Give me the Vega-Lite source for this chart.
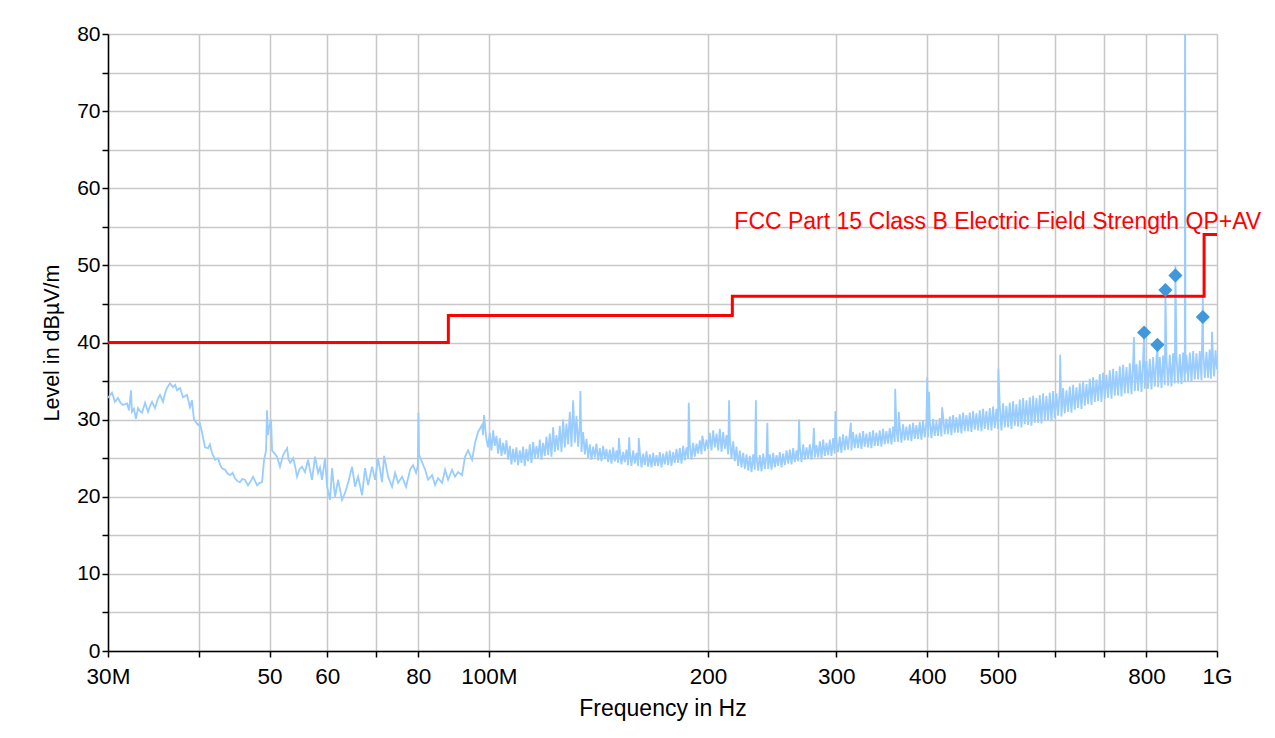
{
"$schema": "https://vega.github.io/schema/vega-lite/v6.json",
"width": 1109, "height": 617,
"autosize": "none",
"padding": {"left": 108, "top": 34, "right": 58, "bottom": 87},
"background": "white",
"config": {"view": {"stroke": null}, "font": "Liberation Sans"},
"datasets": {
"trace": [
{"f":30,"v":32.8},{"f":30.1,"v":33},{"f":30.38,"v":33.5},{"f":30.67,"v":32.3},{"f":30.96,"v":32.8},{"f":31.2,"v":32.2},{"f":31.45,"v":31.9},{"f":31.86,"v":32.1},{"f":32.06,"v":31.2},{"f":32.26,"v":33.8},{"f":32.36,"v":31},{"f":32.56,"v":31.4},{"f":32.77,"v":30.1},{"f":32.99,"v":31.5},{"f":33.2,"v":31.1},{"f":33.41,"v":30.9},{"f":33.73,"v":32.2},{"f":34.05,"v":31},{"f":34.27,"v":31.8},{"f":34.48,"v":32.3},{"f":34.81,"v":31.5},{"f":35.1,"v":32.6},{"f":35.36,"v":33.2},{"f":35.7,"v":32.3},{"f":35.95,"v":33.5},{"f":36.15,"v":34.1},{"f":36.5,"v":34.7},{"f":36.85,"v":34.2},{"f":37.1,"v":34.5},{"f":37.32,"v":33.8},{"f":37.67,"v":34.1},{"f":38.03,"v":32.9},{"f":38.51,"v":33.2},{"f":38.88,"v":31.6},{"f":39.12,"v":32.5},{"f":39.37,"v":30},{"f":39.88,"v":29.3},{"f":40.12,"v":29.5},{"f":40.37,"v":28.4},{"f":40.77,"v":26.4},{"f":41.16,"v":26.3},{"f":41.4,"v":26.8},{"f":41.68,"v":25.7},{"f":42.08,"v":24.8},{"f":42.48,"v":25},{"f":42.75,"v":24.2},{"f":43.02,"v":23.7},{"f":43.44,"v":23.5},{"f":43.8,"v":23},{"f":44.13,"v":22.8},{"f":44.48,"v":23.1},{"f":44.82,"v":22.4},{"f":45.2,"v":22},{"f":45.54,"v":21.9},{"f":45.9,"v":22.3},{"f":46.26,"v":22.2},{"f":46.71,"v":21.5},{"f":47.1,"v":22},{"f":47.45,"v":22.6},{"f":48.06,"v":21.5},{"f":48.45,"v":21.8},{"f":48.83,"v":21.9},{"f":49.14,"v":24.8},{"f":49.45,"v":26},{"f":49.6,"v":31.2},{"f":49.75,"v":28},{"f":49.92,"v":29},{"f":50.24,"v":30},{"f":50.4,"v":26},{"f":50.8,"v":25.6},{"f":51.2,"v":25.2},{"f":51.68,"v":23.9},{"f":52.19,"v":25.4},{"f":52.86,"v":26.3},{"f":53.1,"v":24.8},{"f":53.37,"v":24.4},{"f":53.88,"v":25},{"f":54.2,"v":24},{"f":54.54,"v":22.6},{"f":55,"v":23.6},{"f":55.41,"v":23.9},{"f":55.93,"v":23.2},{"f":56.47,"v":24.8},{"f":56.8,"v":23.5},{"f":57.19,"v":22.2},{"f":57.74,"v":25.2},{"f":58.29,"v":23.1},{"f":58.65,"v":23.8},{"f":59.02,"v":22.2},{"f":59.59,"v":25},{"f":59.97,"v":21.3},{"f":60.54,"v":19.6},{"f":60.92,"v":23.7},{"f":61.5,"v":20},{"f":62.09,"v":22.2},{"f":62.88,"v":19.6},{"f":63.48,"v":20.5},{"f":64.09,"v":21.8},{"f":64.9,"v":23.9},{"f":65.52,"v":21.3},{"f":66.15,"v":22.6},{"f":66.99,"v":20.2},{"f":67.62,"v":23.7},{"f":68.27,"v":21.5},{"f":69.14,"v":23.9},{"f":69.8,"v":22.2},{"f":70.46,"v":25},{"f":71.36,"v":21.9},{"f":71.82,"v":25.3},{"f":72.73,"v":22.6},{"f":73.65,"v":21.3},{"f":74.36,"v":23.1},{"f":75.07,"v":21.8},{"f":76.02,"v":22.6},{"f":76.99,"v":21.3},{"f":77.97,"v":23.5},{"f":78.71,"v":24.1},{"f":79.46,"v":23.1},{"f":79.9,"v":24},{"f":80.05,"v":30.9},{"f":80.22,"v":25.5},{"f":80.73,"v":24.8},{"f":81.77,"v":23.5},{"f":82.54,"v":22.2},{"f":83.59,"v":22.8},{"f":84.39,"v":21.5},{"f":85.19,"v":22.4},{"f":86.27,"v":21.8},{"f":87.09,"v":23.5},{"f":87.93,"v":22.2},{"f":89.04,"v":23.5},{"f":89.89,"v":22.6},{"f":90.75,"v":23.2},{"f":91.9,"v":22.8},{"f":92.78,"v":25.2},{"f":93.67,"v":26},{"f":94.85,"v":24.8},{"f":95.76,"v":27},{"f":96.68,"v":28.4},{"f":97.91,"v":29.3},{"f":98.2,"v":28},{"f":98.53,"v":30.6},{"f":99.16,"v":27.7},
{"f":99.78,"v":26.4},{"f":100.32,"v":28.3},{"f":100.85,"v":26},{"f":101.39,"v":28.6},{"f":101.92,"v":26.6},{"f":102.46,"v":27.9},
{"f":102.99,"v":25.6},{"f":103.54,"v":27.6},{"f":104.09,"v":25.3},{"f":104.65,"v":27},{"f":105.2,"v":25.5},{"f":105.75,"v":27.3},
{"f":106.3,"v":24.8},{"f":106.87,"v":26.6},{"f":107.44,"v":24.2},{"f":108,"v":26.2},{"f":108.57,"v":24.5},{"f":109.14,"v":26.4},
{"f":109.71,"v":24.1},{"f":110.3,"v":26},{"f":110.89,"v":24.4},{"f":111.47,"v":26.5},{"f":112.06,"v":24},{"f":112.65,"v":26.2},
{"f":113.24,"v":24.6},{"f":113.85,"v":26.8},{"f":114.45,"v":24.4},{"f":115.06,"v":27.1},{"f":115.67,"v":25},{"f":116.27,"v":26.6},
{"f":116.88,"v":25},{"f":117.51,"v":27.4},{"f":118.13,"v":24.8},{"f":118.76,"v":27},{"f":119.38,"v":25.3},{"f":120.01,"v":27.8},
{"f":120.63,"v":25.4},{"f":121.28,"v":28.2},{"f":121.92,"v":25.2},{"f":122.57,"v":29},{"f":123.22,"v":25.8},{"f":123.86,"v":28},
{"f":124.51,"v":26},{"f":125.18,"v":29.2},{"f":125.84,"v":25.8},{"f":126.51,"v":30},{"f":127.18,"v":26.4},{"f":127.84,"v":29.5},
{"f":128.51,"v":26.8},{"f":129.2,"v":31},{"f":129.89,"v":26.5},{"f":130.57,"v":32.5},{"f":131.26,"v":27},{"f":131.95,"v":30.5},
{"f":132.64,"v":26.5},{"f":133.35,"v":29.5},{"f":133.6,"v":33.7},{"f":134.06,"v":25.8},{"f":134.77,"v":28.4},{"f":135.48,"v":25.5},{"f":136.19,"v":27.5},
{"f":136.9,"v":25},{"f":137.63,"v":26.8},{"f":138.37,"v":24.8},{"f":139.1,"v":26.5},{"f":139.83,"v":25.1},{"f":140.57,"v":26.9},
{"f":141.3,"v":24.7},{"f":142.06,"v":26.3},{"f":142.81,"v":24.6},{"f":143.57,"v":26.6},{"f":144.33,"v":24.9},{"f":145.08,"v":26.2},
{"f":145.84,"v":24.5},{"f":146.62,"v":26.1},{"f":147.4,"v":24.3},{"f":148.18,"v":26.4},{"f":148.96,"v":24.6},{"f":149.74,"v":26},
{"f":150.52,"v":24.4},{"f":150.9,"v":27.6},{"f":151.33,"v":26},{"f":152.13,"v":24.2},{"f":152.94,"v":25.8},{"f":153.75,"v":24.5},{"f":154.55,"v":26.1},
{"f":155.36,"v":24.1},{"f":155.9,"v":27.7},{"f":156.19,"v":25.9},{"f":157.02,"v":24},{"f":157.86,"v":26},{"f":158.69,"v":24.3},{"f":159.52,"v":25.7},
{"f":160.35,"v":24},{"f":160.7,"v":27.6},{"f":161.21,"v":25.8},{"f":162.07,"v":23.8},{"f":162.92,"v":25.6},{"f":163.78,"v":24.1},{"f":164.64,"v":25.9},
{"f":165.5,"v":23.9},{"f":166.39,"v":25.5},{"f":167.27,"v":23.8},{"f":168.16,"v":25.7},{"f":169.05,"v":24},{"f":169.93,"v":25.4},
{"f":170.82,"v":24},{"f":171.74,"v":25.8},{"f":172.65,"v":23.8},{"f":173.57,"v":25.6},{"f":174.48,"v":24.2},{"f":175.4,"v":25.9},
{"f":176.31,"v":24.1},{"f":177.26,"v":26},{"f":178.2,"v":24},{"f":179.15,"v":25.8},{"f":180.09,"v":24.4},{"f":181.04,"v":26.2},
{"f":181.98,"v":24.4},{"f":182.95,"v":26.3},{"f":183.93,"v":24.3},{"f":184.9,"v":26.6},{"f":185.87,"v":24.7},{"f":186.85,"v":26.4},
{"f":187.82,"v":25},{"f":188.2,"v":32.2},{"f":188.83,"v":26.8},{"f":189.83,"v":24.8},{"f":190.84,"v":27},{"f":191.85,"v":25.2},{"f":192.85,"v":26.9},
{"f":193.86,"v":25.6},{"f":194.9,"v":27.3},{"f":195.94,"v":25.5},{"f":196.4,"v":27.9},{"f":196.97,"v":27.4},{"f":198.01,"v":25.9},{"f":199.05,"v":27.4},
{"f":200.09,"v":26.2},{"f":201.16,"v":28.3},{"f":202.23,"v":26},{"f":203.31,"v":28.6},{"f":204.38,"v":26.4},{"f":205.45,"v":28.2},
{"f":206.52,"v":26},{"f":207.63,"v":28.8},{"f":208.73,"v":25.8},{"f":209.84,"v":28.4},{"f":210.94,"v":26.2},{"f":212.05,"v":28},
{"f":213.15,"v":25.5},{"f":213.8,"v":32.5},{"f":214.29,"v":27.5},{"f":215.43,"v":25},{"f":216.58,"v":27.2},{"f":217.72,"v":24.6},{"f":218.86,"v":26.5},
{"f":220,"v":24},{"f":221.18,"v":26},{"f":222.36,"v":23.8},{"f":223.54,"v":25.7},{"f":224.71,"v":23.6},{"f":225.89,"v":25.5},
{"f":227.07,"v":23.4},{"f":228.29,"v":25.3},{"f":229.5,"v":23.2},{"f":230.72,"v":25.5},{"f":231.93,"v":23.5},{"f":232.7,"v":32.5},{"f":233.15,"v":25.2},
{"f":234.36,"v":23.4},{"f":235.62,"v":25.4},{"f":236.87,"v":23.3},{"f":238.13,"v":25.6},{"f":239.39,"v":23.6},{"f":240.64,"v":25.3},
{"f":241.3,"v":29.6},{"f":241.9,"v":23.6},{"f":243.2,"v":25.5},{"f":244.49,"v":23.5},{"f":245.79,"v":25.7},{"f":247.08,"v":23.8},{"f":248.38,"v":25.4},
{"f":249.67,"v":24},{"f":251.01,"v":25.8},{"f":252.34,"v":23.8},{"f":253.68,"v":25.6},{"f":255.02,"v":24.1},{"f":256.35,"v":26},
{"f":257.69,"v":24.3},{"f":259.07,"v":26.1},{"f":260.45,"v":24.2},{"f":261.83,"v":26.3},{"f":263.21,"v":24.5},{"f":264.59,"v":26},
{"f":265.97,"v":24.6},{"f":266.8,"v":30},{"f":267.4,"v":26.5},{"f":268.82,"v":24.5},{"f":270.25,"v":26.8},{"f":271.67,"v":24.8},{"f":273.1,"v":26.4},
{"f":274.52,"v":24.9},{"f":275.99,"v":26.8},{"f":277.46,"v":24.8},{"f":278.93,"v":27},{"f":279.5,"v":28.9},{"f":280.4,"v":25.1},{"f":281.87,"v":26.7},
{"f":283.34,"v":25.1},{"f":284.86,"v":27.2},{"f":286.37,"v":25},{"f":287.89,"v":27.4},{"f":289.41,"v":25.3},{"f":290.92,"v":27},
{"f":292.44,"v":25.4},{"f":293.99,"v":27.4},{"f":295.53,"v":25.3},{"f":297.08,"v":27.6},{"f":298.62,"v":25.6},{"f":299.2,"v":31.1},{"f":300.17,"v":27.3},
{"f":301.71,"v":25.8},{"f":303.33,"v":27.8},{"f":304.94,"v":25.7},{"f":306.56,"v":28.1},{"f":308.18,"v":26},{"f":309.79,"v":27.9},
{"f":311.41,"v":26.1},{"f":313.08,"v":28.2},{"f":314.2,"v":29.6},{"f":314.74,"v":26},{"f":316.41,"v":28.4},{"f":318.08,"v":26.3},{"f":319.74,"v":28.1},
{"f":321.41,"v":26.3},{"f":323.13,"v":28.3},{"f":324.85,"v":26.2},{"f":326.58,"v":28.5},{"f":328.3,"v":26.5},{"f":330.02,"v":28.2},
{"f":331.74,"v":26.4},{"f":333.52,"v":28.4},{"f":335.29,"v":26.3},{"f":337.07,"v":28.6},{"f":338.85,"v":26.6},{"f":340.62,"v":28.3},
{"f":342.4,"v":26.6},{"f":344.23,"v":28.6},{"f":346.07,"v":26.5},{"f":347.9,"v":28.8},{"f":349.73,"v":26.8},{"f":351.57,"v":28.5},
{"f":353.4,"v":26.9},{"f":355.29,"v":28.9},{"f":357.19,"v":26.8},{"f":359.08,"v":29.1},{"f":360.97,"v":27.1},{"f":361.5,"v":34},{"f":362.87,"v":28.8},
{"f":364.76,"v":27.1},{"f":365.6,"v":31},{"f":366.71,"v":29.2},{"f":368.67,"v":27},{"f":370.62,"v":29.4},{"f":372.57,"v":27.3},{"f":374.53,"v":29.1},
{"f":376.48,"v":27.3},{"f":378.5,"v":29.4},{"f":380.51,"v":27.2},{"f":382.53,"v":29.6},{"f":384.55,"v":27.5},{"f":386.56,"v":29.3},
{"f":388.58,"v":27.5},{"f":390.66,"v":29.7},{"f":392.74,"v":27.4},{"f":394.82,"v":29.9},{"f":396.9,"v":27.7},{"f":398.98,"v":29.6},
{"f":400,"v":35.5},{"f":401.06,"v":27.7},{"f":402.4,"v":33.6},{"f":403.21,"v":29.9},{"f":405.36,"v":27.6},{"f":407.5,"v":30.1},{"f":409.65,"v":27.9},{"f":411.8,"v":29.8},
{"f":413.95,"v":27.9},{"f":416.17,"v":30.2},{"f":418.38,"v":27.8},{"f":419.3,"v":31.6},{"f":420.6,"v":30.4},{"f":422.82,"v":28.1},{"f":425.03,"v":30.1},
{"f":427.25,"v":28.1},{"f":429.54,"v":30.4},{"f":431.83,"v":28},{"f":434.11,"v":30.6},{"f":436.4,"v":28.3},{"f":438.69,"v":30.3},
{"f":440.98,"v":28.3},{"f":443.34,"v":30.7},{"f":445.7,"v":28.2},{"f":448.07,"v":30.9},{"f":450.43,"v":28.5},{"f":452.79,"v":30.6},
{"f":455.15,"v":28.5},{"f":457.59,"v":30.9},{"f":460.02,"v":28.4},{"f":462.46,"v":31.1},{"f":464.9,"v":28.7},{"f":467.33,"v":30.8},
{"f":469.77,"v":28.6},{"f":472.29,"v":31.2},{"f":474.8,"v":28.5},{"f":477.32,"v":31.4},{"f":479.83,"v":28.8},{"f":482.35,"v":31.1},
{"f":484.86,"v":28.7},{"f":487.46,"v":31.5},{"f":490.05,"v":28.6},{"f":492.65,"v":31.7},{"f":495.25,"v":28.9},{"f":497.84,"v":31.4},
{"f":500.44,"v":28.8},{"f":500.9,"v":36.6},{"f":503.12,"v":31.9},{"f":505.8,"v":28.6},{"f":508.48,"v":32.1},{"f":511.16,"v":29},{"f":513.84,"v":31.8},
{"f":516.52,"v":29},{"f":519.29,"v":32.2},{"f":522.05,"v":28.8},{"f":524.82,"v":32.4},{"f":527.59,"v":29.2},{"f":530.35,"v":32},
{"f":533.12,"v":29.1},{"f":535.98,"v":32.6},{"f":538.83,"v":29},{"f":541.69,"v":32.8},{"f":544.54,"v":29.4},{"f":547.4,"v":32.5},
{"f":550.25,"v":29.3},{"f":553.2,"v":32.9},{"f":556.14,"v":29.2},{"f":559.09,"v":33.1},{"f":562.04,"v":29.6},{"f":564.98,"v":32.8},
{"f":567.93,"v":29.6},{"f":570.97,"v":33.2},{"f":574.01,"v":29.5},{"f":577.06,"v":33.4},{"f":580.1,"v":29.9},{"f":583.14,"v":33.1},
{"f":586.18,"v":29.9},{"f":589.32,"v":33.5},{"f":592.46,"v":29.8},{"f":595.6,"v":33.7},{"f":598.73,"v":30.2},{"f":601.87,"v":33.4},
{"f":605.01,"v":30.5},{"f":608.25,"v":33.9},{"f":609,"v":38.4},{"f":611.49,"v":30.4},{"f":614.73,"v":34.1},{"f":617.97,"v":30.8},{"f":621.21,"v":33.8},
{"f":624.45,"v":31},{"f":627.8,"v":34.3},{"f":631.14,"v":30.9},{"f":634.49,"v":34.5},{"f":637.83,"v":31.3},{"f":641.18,"v":34.2},
{"f":644.52,"v":31.5},{"f":647.97,"v":34.7},{"f":651.42,"v":31.4},{"f":654.88,"v":34.9},{"f":658.33,"v":31.8},{"f":661.78,"v":34.6},
{"f":665.23,"v":32},{"f":668.79,"v":35.3},{"f":672.35,"v":31.9},{"f":675.92,"v":35.5},{"f":679.48,"v":32.3},{"f":683.04,"v":35.2},
{"f":686.6,"v":32.4},{"f":690.28,"v":35.9},{"f":693.95,"v":32.3},{"f":697.63,"v":36.1},{"f":701.31,"v":32.7},{"f":704.98,"v":35.8},
{"f":708.66,"v":32.8},{"f":712.46,"v":36.4},{"f":716.25,"v":32.7},{"f":720.05,"v":36.6},{"f":723.84,"v":33.1},{"f":727.64,"v":36.3},
{"f":731.43,"v":33.1},{"f":735.35,"v":36.9},{"f":739.26,"v":33},{"f":743.18,"v":37.1},{"f":747.1,"v":33.4},{"f":751.01,"v":36.8},
{"f":754.93,"v":33.4},{"f":758.97,"v":37.3},{"f":763.02,"v":33.3},{"f":767.06,"v":37.5},{"f":769,"v":40.7},{"f":771.1,"v":33.7},{"f":775.15,"v":37.2},
{"f":779.19,"v":33.7},{"f":783.36,"v":37.7},{"f":787.54,"v":33.6},{"f":791.71,"v":37.9},{"f":794.1,"v":41},{"f":795.88,"v":34},{"f":800.06,"v":37.6},
{"f":804.23,"v":34},{"f":808.54,"v":37.9},{"f":812.84,"v":33.9},{"f":817.15,"v":38.1},{"f":821.46,"v":34.3},{"f":825.76,"v":37.8},{"f":828.3,"v":39.6},
{"f":830.07,"v":34.2},{"f":834.52,"v":38.1},{"f":838.96,"v":34.1},{"f":843.41,"v":38.3},{"f":847.85,"v":34.5},{"f":849.5,"v":46.5},{"f":852.3,"v":38},
{"f":856.74,"v":34.4},{"f":861.33,"v":38.4},{"f":865.92,"v":34.3},{"f":870.5,"v":38.6},{"f":875.09,"v":34.7},{"f":876.8,"v":50},{"f":879.68,"v":38.3},
{"f":884.27,"v":34.7},{"f":889,"v":38.5},{"f":893.74,"v":34.6},{"f":898.47,"v":38.7},{"f":903.21,"v":34.9},{"f":904,"v":100},{"f":905,"v":36},{"f":907.94,"v":38.4},
{"f":912.68,"v":35},{"f":917.57,"v":38.7},{"f":922.45,"v":34.9},{"f":927.34,"v":38.9},{"f":932.23,"v":35.2},{"f":937.11,"v":38.6},
{"f":942,"v":35.2},{"f":947.05,"v":38.9},{"f":952.09,"v":35.1},{"f":956.2,"v":46},{"f":957.14,"v":39.1},{"f":962.18,"v":35.4},{"f":967.23,"v":38.8},
{"f":972.27,"v":35.4},{"f":976.89,"v":39.1},{"f":981.51,"v":35.3},{"f":984.4,"v":41.4},{"f":986.13,"v":39.3},{"f":990.76,"v":35.6},{"f":995.38,"v":39},{"f":1000,"v":36.5}
],
"limit": [{"f":30,"v":40},{"f":88,"v":43.5},{"f":216,"v":46},{"f":960,"v":54},{"f":1000,"v":54}],
"marks": [{"f":794.1,"v":41.3},{"f":828.3,"v":39.7},{"f":849.5,"v":46.8},{"f":876.8,"v":48.7},{"f":956.2,"v":43.3}],
"label": [{"f":216,"v":54.7,"t":"FCC Part 15 Class B Electric Field Strength QP+AV"}]
},
"encoding": {
"x": {"field": "f", "type": "quantitative",
 "scale": {"type": "log", "domain": [30, 1000], "nice": false},
 "axis": {"title": "Frequency in Hz", "values": [30,40,50,60,70,80,100,200,300,400,500,600,700,800,1000],
  "labelExpr": "datum.value == 30 ? '30M' : datum.value == 100 ? '100M' : datum.value == 1000 ? '1G' : (datum.value == 40 || datum.value == 70 || datum.value == 600 || datum.value == 700) ? '' : '' + datum.value",
  "labelOverlap": false, "labelFlush": false, "labelFontSize": 22.5, "labelColor": "#000000", "labelPadding": 8,
  "titleFontSize": 23, "titleFontWeight": "normal", "titleColor": "#000000", "titlePadding": 10,
  "grid": true, "gridColor": "#c8c8c8", "gridWidth": 1.5,
  "domainColor": "#000000", "domainWidth": 1.5, "tickColor": "#000000", "tickWidth": 1.5, "tickSize": 6}},
"y": {"field": "v", "type": "quantitative",
 "scale": {"domain": [0, 80], "nice": false},
 "axis": {"title": "Level in dBµV/m", "values": [0,5,10,15,20,25,30,35,40,45,50,55,60,65,70,75,80],
  "labelExpr": "datum.value % 10 == 0 ? datum.label : ''",
  "labelOverlap": false, "labelFlush": false, "labelFontSize": 21, "labelColor": "#000000", "labelPadding": 2,
  "titleFontSize": 21.5, "titleFontWeight": "normal", "titleColor": "#000000", "titlePadding": 13,
  "grid": true, "gridColor": "#c8c8c8", "gridWidth": 1.5,
  "domainColor": "#000000", "domainWidth": 1.5, "tickColor": "#000000", "tickWidth": 1.5, "tickSize": 6}}
},
"layer": [
 {"data": {"name": "trace"}, "mark": {"type": "line", "color": "#99ccff", "strokeWidth": 1.8, "clip": true}},
 {"data": {"name": "limit"}, "mark": {"type": "line", "color": "#ff0000", "strokeWidth": 3, "interpolate": "step-after"}},
 {"data": {"name": "marks"}, "mark": {"type": "point", "shape": "diamond", "filled": true, "size": 200, "color": "#3f97dc", "opacity": 1}},
 {"data": {"name": "label"}, "mark": {"type": "text", "color": "#ff0000", "fontSize": 23, "align": "left", "baseline": "alphabetic", "dx": 2, "clip": false},
  "encoding": {"text": {"field": "t"}}}
]
}
